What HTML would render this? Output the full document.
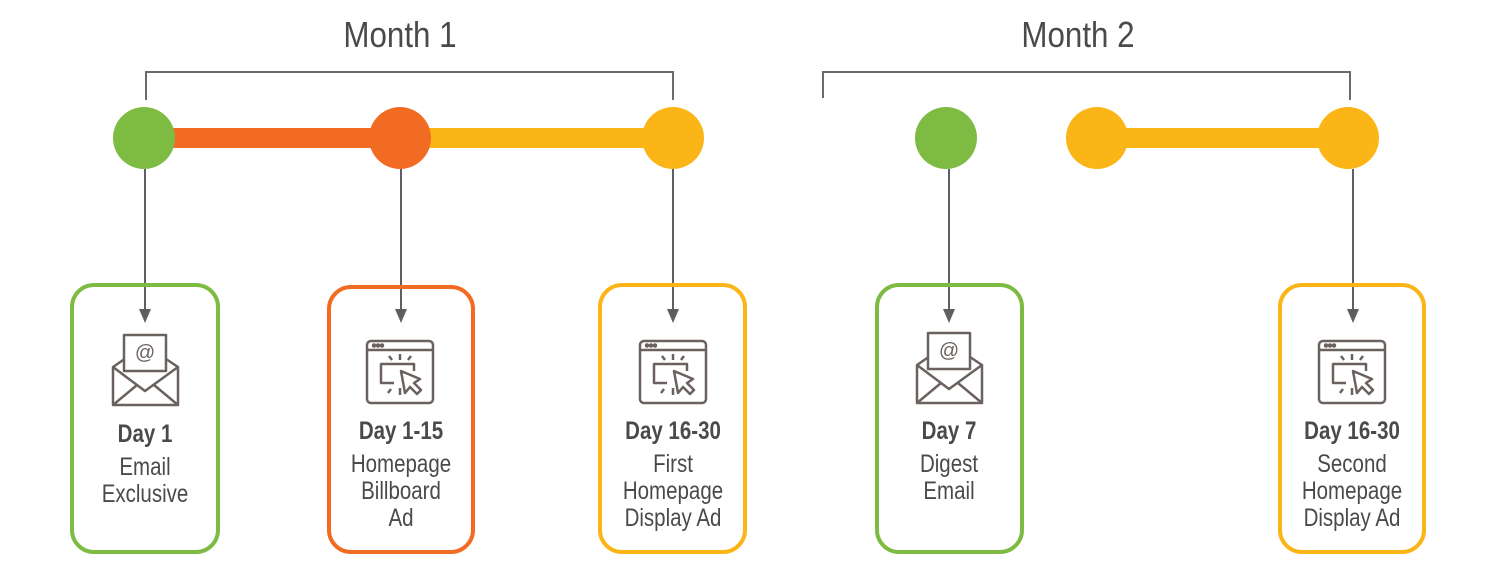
<!DOCTYPE html>
<html><head><meta charset="utf-8"><style>
html,body{margin:0;padding:0;background:#fff;}
svg{display:block;}
text{font-family:"Liberation Sans",sans-serif;fill:#4a4a4a;text-anchor:middle;}
.b{font-weight:bold;font-size:25px;}
.n{font-size:25px;}
.t{font-size:36px;}
</style></head><body>
<svg width="1500" height="581" viewBox="0 0 1500 581" xmlns="http://www.w3.org/2000/svg">
<defs>
<g id="env" fill="none" stroke="#6b625f" stroke-width="2.5" stroke-linejoin="round">
<path d="M-32,22 L-32,60 L33,60 L33,22 L0,0 L-32,22 Z" />
<rect x="-21" y="-10" width="42" height="36" fill="#fff"/>
<path d="M-32,22 L0,46 L33,22"/>
<path d="M-32,60 L-8,40 M33,60 L9,40"/>
<text x="0" y="14" style="font-size:20px;fill:#6b625f;stroke:none">@</text>
</g>
<g id="brw" fill="none" stroke="#6b625f" stroke-width="2.5" stroke-linejoin="round">
<rect x="-33" y="0" width="66" height="62" rx="4"/>
<line x1="-33" y1="9" x2="33" y2="9"/>
<circle cx="-26" cy="4.5" r="1" fill="#6b625f"/><circle cx="-22" cy="4.5" r="1" fill="#6b625f"/><circle cx="-18" cy="4.5" r="1" fill="#6b625f"/>
<path d="M-6,42 L-19,42 L-19,23 L14,23 L14,30"/>
<path d="M1,30 L5,52 L10,46 L17,53 L21,49 L14,42 L20,38 Z"/>
<path d="M0,13 L0,19 M-11,15 L-8,19 M11,15 L8,19 M-9,48 L-12,52 M0,47 L0,54"/>
</g>
</defs>

<g transform="translate(400,0) scale(0.87,1)"><text class="t" x="0" y="47">Month 1</text></g>
<g transform="translate(1078,0) scale(0.87,1)"><text class="t" x="0" y="47">Month 2</text></g>

<g fill="none" stroke="#6a6a6a" stroke-width="2">
<path d="M146,100 L146,72 L673,72 L673,100"/>
<path d="M823,98 L823,72 L1350,72 L1350,100"/>
</g>

<rect x="144" y="128" width="256" height="20" fill="#f26b22"/>
<rect x="400" y="128" width="273" height="20" fill="#fbb516"/>
<rect x="1097" y="128" width="251" height="20" fill="#fbb516"/>

<ellipse cx="144" cy="138" rx="31" ry="31" fill="#7dbb42"/>
<ellipse cx="400" cy="138" rx="31" ry="31" fill="#f26b22"/>
<ellipse cx="673" cy="138" rx="31" ry="31" fill="#fbb516"/>
<ellipse cx="946" cy="138" rx="31" ry="31" fill="#7dbb42"/>
<ellipse cx="1097" cy="138" rx="31" ry="31" fill="#fbb516"/>
<ellipse cx="1348" cy="138" rx="31" ry="31" fill="#fbb516"/>

<g stroke="#5f5f63" stroke-width="2">
<line x1="145" y1="169" x2="145" y2="312"/>
<line x1="401" y1="169" x2="401" y2="312"/>
<line x1="673" y1="169" x2="673" y2="312"/>
<line x1="949" y1="169" x2="949" y2="312"/>
<line x1="1353" y1="169" x2="1353" y2="312"/>
</g>
<g fill="#5f5f63">
<path d="M139,309 L151,309 L145,323 Z"/>
<path d="M395,309 L407,309 L401,323 Z"/>
<path d="M667,309 L679,309 L673,323 Z"/>
<path d="M943,309 L955,309 L949,323 Z"/>
<path d="M1347,309 L1359,309 L1353,323 Z"/>
</g>

<g fill="none" stroke-width="4">
<rect x="72" y="285" width="146" height="267" rx="22" stroke="#7dbb42"/>
<rect x="329" y="287" width="144" height="265" rx="22" stroke="#f26b22"/>
<rect x="600" y="285" width="145" height="267" rx="22" stroke="#fbb516"/>
<rect x="877" y="285" width="145" height="267" rx="22" stroke="#7dbb42"/>
<rect x="1280" y="285" width="144" height="267" rx="22" stroke="#fbb516"/>
</g>

<use href="#env" x="145" y="345"/>
<use href="#brw" x="400" y="341"/>
<use href="#brw" x="673" y="341"/>
<use href="#env" x="949" y="343"/>
<use href="#brw" x="1352" y="341"/>

<g transform="translate(145,0) scale(0.82,1)">
<text class="b" x="0" y="442">Day 1</text>
<text class="n" x="0" y="475">Email</text>
<text class="n" x="0" y="502">Exclusive</text>
</g>
<g transform="translate(401,0) scale(0.82,1)">
<text class="b" x="0" y="439">Day 1-15</text>
<text class="n" x="0" y="472">Homepage</text>
<text class="n" x="0" y="499">Billboard</text>
<text class="n" x="0" y="526">Ad</text>
</g>
<g transform="translate(673,0) scale(0.82,1)">
<text class="b" x="0" y="439">Day 16-30</text>
<text class="n" x="0" y="472">First</text>
<text class="n" x="0" y="499">Homepage</text>
<text class="n" x="0" y="526">Display Ad</text>
</g>
<g transform="translate(949,0) scale(0.82,1)">
<text class="b" x="0" y="439">Day 7</text>
<text class="n" x="0" y="472">Digest</text>
<text class="n" x="0" y="499">Email</text>
</g>
<g transform="translate(1352,0) scale(0.82,1)">
<text class="b" x="0" y="439">Day 16-30</text>
<text class="n" x="0" y="472">Second</text>
<text class="n" x="0" y="499">Homepage</text>
<text class="n" x="0" y="526">Display Ad</text>
</g>
</svg>
</body></html>
